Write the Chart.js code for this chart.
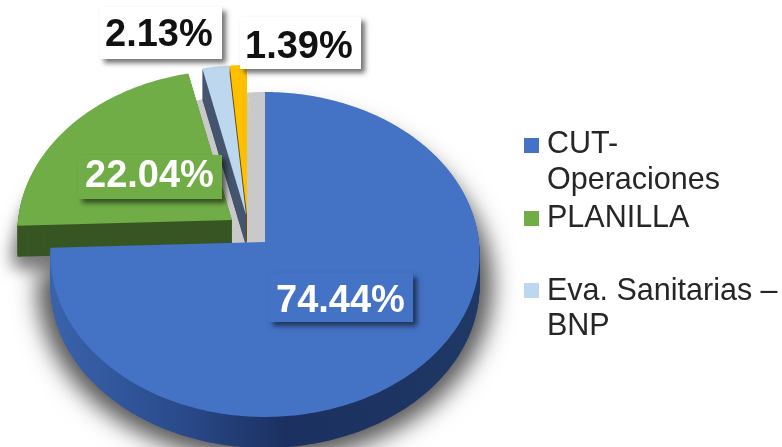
<!DOCTYPE html>
<html>
<head>
<meta charset="utf-8">
<script src="https://cdn.jsdelivr.net/npm/chart.js@4"></script>
<style>
html, body { margin: 0; padding: 0; background: #fff; overflow: hidden; }
canvas { display: block; }
</style>
</head>
<body>
<canvas id="pie" width="782" height="447"></canvas>
<script>
// values
var categories = ["CUT-\nOperaciones", "PLANILLA", "Eva. Sanitarias –\nBNP", ""];
var shares = [74.44, 22.04, 2.13, 1.39];

var topColors = ["#4472C4", "#70AD47", "#BDD7EE", "#FFC000"];
var wallColors = ["#1F3864", "#375623", "#46566E", "#6B5200"];
var labelColors = ["#fff", "#fff", "#111", "#111"];
var labelFills = ["#4472C4", "#70AD47", "#fff", "#fff"];

// look of the tilted pie
var TILT_Y = 161.5 / 214, PERSPECTIVE = 0.0769, SHIFT_Y = 19, DEPTH = 31;
var explode = [[0, 0], [-33, -22], [-19, -27], [-18, -27]];
var paintOrder = [1, 3, 2, 0];
var labelBoxes = [[269, 273, 144, 49, 276, 312], [78, 155, 144, 44, 85, 187], [100, 7, 122, 52, 105, 46], [240, 17, 121, 52, 245, 58]];
var legendRows = [[524, 138, 153, 36], [524, 211, 227, 0], [524, 283, 300, 35]];

function piePoint(arc, angle, dx, dy) {
    var c = Math.cos(angle), s = Math.sin(angle);
    var w = 1 - PERSPECTIVE * s;
    return [
        arc.x + dx + arc.outerRadius * c / w,
        arc.y + SHIFT_Y + dy + TILT_Y * arc.outerRadius * s / w
    ];
}

function slicePath(ctx, arc, dx, dy) {
    var steps = Math.max(4, Math.ceil((arc.endAngle - arc.startAngle) * 60));
    ctx.beginPath();
    ctx.moveTo(arc.x + dx, arc.y + SHIFT_Y + dy);
    for (var i = 0; i <= steps; i++) {
        var p = piePoint(arc, arc.startAngle + (arc.endAngle - arc.startAngle) * i / steps, dx, dy);
        ctx.lineTo(p[0], p[1]);
    }
    ctx.closePath();
}

// only the blurred shadow lands on the canvas, the shape itself stays off it
function softShadow(ctx, arc, dx, dy, grow, blur, alpha) {
    var away = 2000;
    ctx.save();
    ctx.shadowColor = "rgba(0,0,0," + alpha + ")";
    ctx.shadowBlur = blur;
    ctx.shadowOffsetX = away;
    ctx.fillStyle = "#000";
    ctx.strokeStyle = "#000";
    ctx.lineWidth = grow * 2;
    ctx.lineJoin = "round";
    slicePath(ctx, arc, dx - away, dy);
    ctx.fill();
    ctx.stroke();
    ctx.restore();
}

var tiltedPie = {
    id: "tiltedPie",
    beforeDatasetsDraw: function(chart) {
        var ctx = chart.ctx;
        var arcs = chart.getDatasetMeta(0).data;

        // soft floor shadow, the upper part stays hidden behind the slice
        softShadow(ctx, arcs[0], 0, DEPTH, 12, 26, 0.6);

        // grey floor seen through the gap left by the pulled out slices
        ctx.save();
        ctx.fillStyle = "#c9c9c9";
        arcs.slice(1).forEach(function(arc) {
            slicePath(ctx, arc, 0, 0);
            ctx.fill();
            slicePath(ctx, arc, 0, DEPTH);
            ctx.fill();
        });
        ctx.restore();

        // shadow left of the green wall
        ctx.save();
        ctx.beginPath();
        ctx.rect(0, 0, 60, 447);
        ctx.clip();
        softShadow(ctx, arcs[1], explode[1][0], explode[1][1] + DEPTH + 6, 5, 18, 0.5);
        ctx.restore();

        paintOrder.forEach(function(i) {
            var arc = arcs[i], dx = explode[i][0], dy = explode[i][1];
            var wall = wallColors[i];
            if (i === 0) {
                wall = ctx.createLinearGradient(50, 0, 480, 0);
                wall.addColorStop(0, "#3A63AC");
                wall.addColorStop(0.3, "#2A4B8C");
                wall.addColorStop(0.55, "#1B3060");
                wall.addColorStop(1, "#1F3864");
            }
            ctx.fillStyle = wall;
            for (var d = DEPTH; d > 0; d--) {
                slicePath(ctx, arc, dx, dy + d);
                ctx.fill();
            }
            ctx.fillStyle = topColors[i];
            slicePath(ctx, arc, dx, dy);
            ctx.fill();
        });
        return false;
    },
    afterDraw: function(chart) {
        var ctx = chart.ctx;

        // value labels in their boxes
        labelBoxes.forEach(function(b, i) {
            ctx.save();
            ctx.shadowColor = "rgba(0,0,0,0.55)";
            ctx.shadowBlur = 5;
            ctx.shadowOffsetX = 4;
            ctx.shadowOffsetY = 4;
            ctx.fillStyle = labelFills[i];
            ctx.fillRect(b[0], b[1], b[2], b[3]);
            ctx.restore();
            ctx.fillStyle = labelColors[i];
            ctx.font = "bold 38px 'Liberation Sans', Arial, sans-serif";
            ctx.textAlign = "left";
            ctx.textBaseline = "alphabetic";
            ctx.fillText(shares[i].toFixed(2) + "%", b[4], b[5]);
        });

        // legend, the last slice has no entry in the picture
        legendRows.forEach(function(row, i) {
            ctx.fillStyle = topColors[i];
            ctx.fillRect(row[0], row[1], 15, 15);
            ctx.fillStyle = "#262626";
            ctx.font = "30.5px 'Liberation Sans', Arial, sans-serif";
            categories[i].split("\n").forEach(function(line, n) {
                ctx.fillText(line, 547, row[2] + n * row[3]);
            });
        });
    }
};

new Chart(document.getElementById("pie"), {
    type: "pie",
    data: {
        labels: categories,
        datasets: [{
            data: shares,
            backgroundColor: topColors,
            borderWidth: 0
        }]
    },
    options: {
        responsive: false,
        animation: false,
        layout: { padding: { left: 51, right: 303, top: 9, bottom: 10 } },
        plugins: {
            legend: { display: false },
            tooltip: { enabled: false }
        }
    },
    plugins: [tiltedPie]
});
</script>
</body>
</html>
